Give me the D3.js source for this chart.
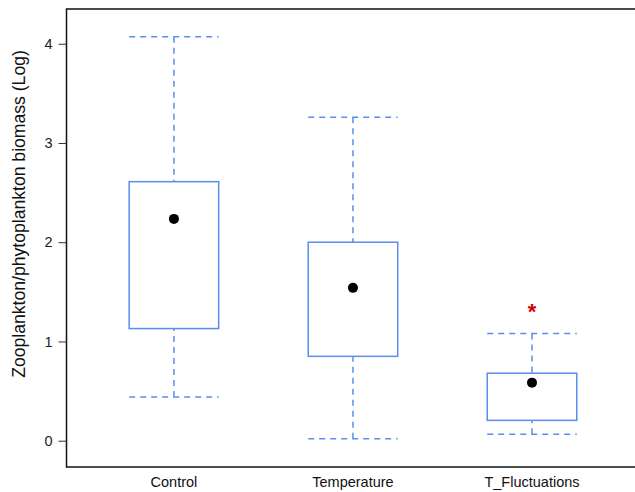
<!DOCTYPE html>
<html>
<head>
<meta charset="utf-8">
<script src="https://cdn.jsdelivr.net/npm/d3@7"></script>
<style>
  body { margin: 0; background: #fff; }
  svg { display: block; font-family: "Liberation Sans", Arial, sans-serif; }
</style>
</head>
<body>
<script>
// values (log scale)
const groups = ["Control", "Temperature", "T_Fluctuations"];
const whiskerLow = [0.44, 0.02, 0.065];
const boxLow = [1.13, 0.85, 0.205];
const boxHigh = [2.61, 2.0, 0.68];
const whiskerHigh = [4.07, 3.26, 1.08];
const means = [2.235, 1.54, 0.585];
const yTicks = [0, 1, 2, 3, 4];
const starGroup = "T_Fluctuations", starValue = 1.33;

const W = 635, H = 492;
const plot = {left: 66.5, right: 643, top: 9, bottom: 467};
const blue = "#5b8def";

const data = groups.map((g, i) => ({
  g, lo: whiskerLow[i], q1: boxLow[i], q3: boxHigh[i], hi: whiskerHigh[i], mean: means[i]
}));

const svg = d3.select("body").append("svg")
    .attr("width", W)
    .attr("height", H);

// R style: groups at 1..n, frame runs a little past them
const x = d3.scaleLinear().domain([0.4, 3.62]).range([plot.left, plot.right]);
const y = d3.scaleLinear().domain([-0.265, 4.35]).range([plot.bottom, plot.top]);
const bw = x(1.25) - x(0.75);

// plot frame
svg.append("rect")
    .attr("x", plot.left).attr("y", plot.top)
    .attr("width", plot.right - plot.left).attr("height", plot.bottom - plot.top)
    .attr("fill", "none").attr("stroke", "#111").attr("stroke-width", 1.5);

// y axis
const yAxis = svg.append("g")
    .attr("transform", "translate(" + plot.left + ",0)")
    .call(d3.axisLeft(y).tickValues(yTicks).tickFormat(d3.format("d")).tickSize(8).tickPadding(6));
yAxis.select(".domain").remove();
yAxis.selectAll("line").attr("stroke", "#333");
yAxis.selectAll("text").attr("font-size", 14.5).attr("fill", "#222")
    .attr("font-family", "Liberation Sans, Arial, sans-serif");

svg.append("text")
    .attr("transform", "translate(25," + 214 + ") rotate(-90)")
    .attr("text-anchor", "middle")
    .attr("font-size", 17.6)
    .attr("fill", "#111")
    .text("Zooplankton/phytoplankton biomass (Log)");

// x labels
svg.selectAll(".xlab")
    .data(data)
  .enter().append("text")
    .attr("class", "xlab")
    .attr("x", (d, i) => x(i + 1))
    .attr("y", 487)
    .attr("text-anchor", "middle")
    .attr("font-size", 14.5)
    .attr("fill", "#111")
    .text(d => d.g);

const box = svg.selectAll(".box")
    .data(data)
  .enter().append("g")
    .attr("class", "box")
    .attr("transform", (d, i) => "translate(" + x(i + 1) + ",0)");

// whisker stems
box.append("line")
    .attr("y1", d => y(d.hi)).attr("y2", d => y(d.q3))
    .attr("stroke", blue).attr("stroke-width", 1.5).attr("stroke-dasharray", "6,5");
box.append("line")
    .attr("y1", d => y(d.lo)).attr("y2", d => y(d.q1))
    .attr("stroke", blue).attr("stroke-width", 1.5).attr("stroke-dasharray", "6,5");

// caps
[d => d.hi, d => d.lo].forEach(f => {
  box.append("line")
      .attr("x1", -bw / 2).attr("x2", bw / 2)
      .attr("y1", d => y(f(d))).attr("y2", d => y(f(d)))
      .attr("stroke", blue).attr("stroke-width", 1.5).attr("stroke-dasharray", "6,5");
});

// boxes
box.append("rect")
    .attr("x", -bw / 2).attr("width", bw)
    .attr("y", d => y(d.q3)).attr("height", d => y(d.q1) - y(d.q3))
    .attr("fill", "#fff").attr("stroke", blue).attr("stroke-width", 1.5);

// means
box.append("circle")
    .attr("cy", d => y(d.mean))
    .attr("r", 5)
    .attr("fill", "#000");

// significance star
svg.append("text")
    .attr("x", x(groups.indexOf(starGroup) + 1))
    .attr("y", y(starValue) + 10)
    .attr("text-anchor", "middle")
    .attr("font-size", 22)
    .attr("font-weight", "bold")
    .attr("fill", "#d40000")
    .text("*");
</script>
</body>
</html>
